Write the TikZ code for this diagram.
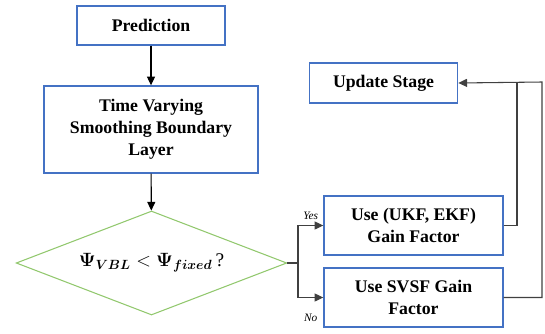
\documentclass[tikz,border=0pt]{standalone}
\usepackage{amsmath,amssymb}
\usepackage{bm}
\usepackage{xcolor}
\usepackage{fontspec}
\setmainfont{Liberation Serif}
\usetikzlibrary{positioning,arrows.meta,shapes.geometric}
\definecolor{boxblue}{RGB}{68,114,196}
\definecolor{decgreen}{RGB}{146,200,110}

\begin{document}
\begin{tikzpicture}[
  x=0.75pt, y=-0.75pt,
  font=\fontsize{13.3}{16.5}\selectfont\bfseries,
  box/.style={draw=boxblue, line width=1.3pt, align=center, inner sep=2pt},
  decision/.style={diamond, draw=decgreen, line width=0.8pt, aspect=2.6, inner sep=0pt, minimum width=203pt, minimum height=78pt},
  arr/.style={-{Triangle[length=6.5pt,width=6pt]}, line width=0.8pt},
  link/.style={line width=0.8pt, draw=black!75},
  tag/.style={font=\fontsize{8.5}{10}\selectfont\itshape}
]
\useasboundingbox (0,0) rectangle (545,333);

\node[box, minimum width=111pt, minimum height=29pt] (pred) at (151,25.5) {Prediction};
\node[box, minimum width=160pt, minimum height=65pt] (tvsbl) at (151,129.5) {Time Varying\\Smoothing Boundary\\Layer};
\node[decision] (dec) at (151.5,263) {\fontsize{14.5}{16}\selectfont$\bm{\Psi}_{\bm{VBL}} < \bm{\Psi}_{\bm{fixed}}$\,\textmd{?}};
\node[box, minimum width=134pt, minimum height=44pt] (yes) at (413.5,225.5) {Use (UKF, EKF)\\Gain Factor};
\node[box, minimum width=134pt, minimum height=44pt] (svsf) at (413.5,297.5) {Use SVSF Gain\\Factor};
\node[box, minimum width=111pt, minimum height=30pt] (upd) at (383.5,83) {Update Stage};

\coordinate (split) at (298,263);
\coordinate (fbA) at (517,82);
\coordinate (fbB) at (542,82);

\draw[arr] (pred) -- (tvsbl);
\draw[arr] (tvsbl) -- (dec);
\draw[link] (dec.east) -- (split);
\draw[link, arr] (split) |- (yes.west) node[tag, pos=0.75, above=1pt] {Yes};
\draw[link, arr] (split) |- (svsf.west) node[tag, pos=0.75, below=9pt] {No};
\draw[link] (yes.east) -| (fbA);
\draw[link, arr] (svsf.east) -| (fbB) -- (upd.east);
\end{tikzpicture}
\end{document}
